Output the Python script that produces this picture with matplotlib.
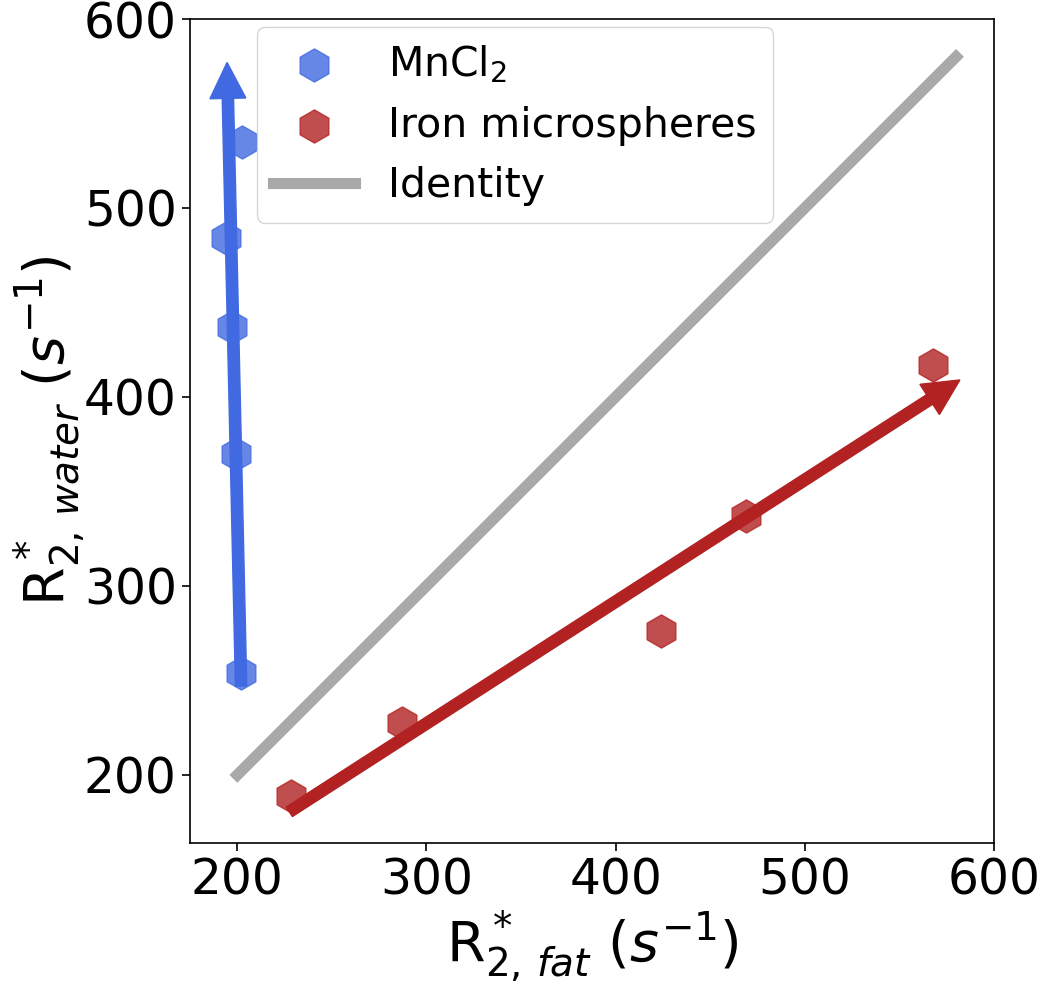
import matplotlib
matplotlib.use("Agg")
import matplotlib.pyplot as plt

# MnCl2 samples
mn_fat = [202.5, 194, 197, 199.5, 202]
mn_water = [535, 484, 437, 370, 254]
# iron microsphere samples
fe_fat = [228.5, 287, 424, 469, 568]
fe_water = [189, 227.5, 276, 337, 417]

# fitted trends (start, end) drawn as arrows
mn_arrow = [(202, 247), (194.6, 577)]
fe_arrow = [(227.5, 180.5), (582, 409)]

identity = [200, 580]

fig = plt.figure(figsize=(10.4, 9.85), dpi=100)
ax = fig.add_axes([0.1827, 0.1442, 0.773, 0.8365])

ax.scatter(mn_fat, mn_water, marker="h", s=570, color="royalblue", alpha=0.8,
           edgecolors="royalblue", linewidths=1, label="MnCl$_2$")
ax.scatter(fe_fat, fe_water, marker="h", s=570, color="firebrick", alpha=0.8,
           edgecolors="firebrick", linewidths=1, label="Iron microspheres")
ax.plot(identity, identity, color="darkgray", lw=8, label="Identity")

for (x0, y0), (x1, y1), c in [(mn_arrow[0], mn_arrow[1], "royalblue"),
                              (fe_arrow[0], fe_arrow[1], "firebrick")]:
    ax.arrow(x0, y0, x1 - x0, y1 - y0, width=6, head_width=19, head_length=19,
             length_includes_head=True, color=c)

ax.set_xlim(175, 600)
ax.set_ylim(164, 600)
ax.set_xticks([200, 300, 400, 500, 600])
ax.set_yticks([200, 300, 400, 500, 600])
ax.tick_params(labelsize=35, length=6, width=1.2)
for s in ax.spines.values():
    s.set_linewidth(1.2)

ax.set_xlabel(r"R$^*_{2,\,fat}$ $(s^{-1})$", fontsize=40)
ax.set_ylabel(r"R$^*_{2,\,water}$ $(s^{-1})$", fontsize=40, labelpad=-3)

ax.legend(loc="upper left", bbox_to_anchor=(0.083, 0.99), borderaxespad=0,
          fontsize=29.5, handlelength=2.0)

fig.savefig("out.png", dpi=100)
